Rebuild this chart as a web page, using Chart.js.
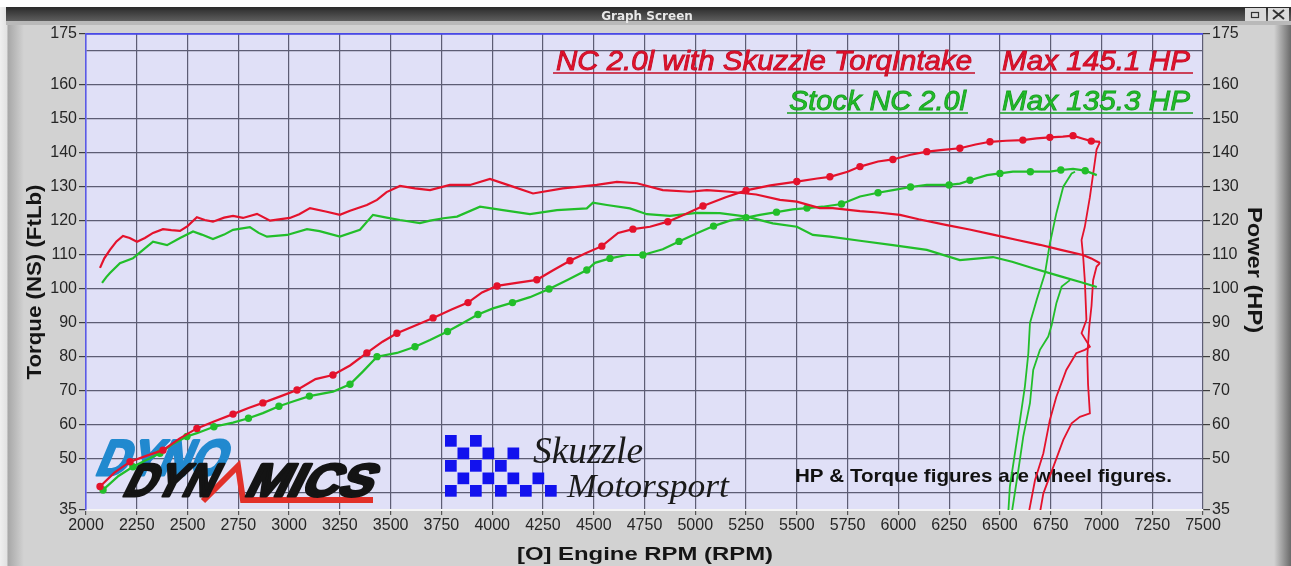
<!DOCTYPE html>
<html>
<head>
<meta charset="utf-8">
<title>Graph Screen - NC 2.0l dyno</title>
<script src="https://cdn.jsdelivr.net/npm/chart.js@4.4.1/dist/chart.umd.min.js"></script>
<style>
  html, body { margin: 0; padding: 0; background: #d2d2d2; }
  canvas { display: block; }
</style>
</head>
<body>
<canvas id="dyno" width="1291" height="566"></canvas>
<script>
// [rpm, value] pairs
const skuzzleTorque = [
  [2069,106.2],[2090,109],[2118,111.5],[2150,114],[2182,115.6],[2215,115],[2251,113.9],[2290,115],
  [2330,116.5],[2379,117.6],[2420,117.3],[2463,117.1],[2500,118.5],[2546,121.1],[2585,120.3],[2625,119.8],
  [2680,121],[2724,121.5],[2773,120.9],[2842,122.1],[2906,120.1],[2950,120.5],[3004,120.9],[3050,122],
  [3103,123.8],[3180,122.8],[3250,121.8],[3300,123],[3383,124.7],[3433,126.2],[3480,128.5],[3546,130.3],
  [3620,129.6],[3694,129.1],[3792,130.6],[3891,130.6],[3989,132.4],[4102,130.1],[4201,128.1],[4348,129.6],
  [4515,130.6],[4614,131.5],[4713,131.1],[4840,129.1],[4973,128.6],[5057,129.1],[5170,128.6],[5300,127.8],
  [5417,126.2],[5500,125.7],[5613,123.8],[5677,123.8],[5811,122.9],[5900,122.5],[6008,121.8],[6100,120.5],
  [6239,118.8],[6350,117.5],[6466,116],[6580,114.5],[6697,113],[6800,111.5],[6909,110],[6950,109],[6993,107.6]
];
const skuzzlePower = [
  [2069,41.9],[2140,46],[2217,49.2],[2300,51],[2379,52.6],[2460,56],[2546,59],[2630,61],[2724,63.2],
  [2800,65],[2871,66.5],[2960,68.5],[3039,70.3],[3130,73.5],[3216,74.7],[3300,77.5],[3383,81.2],[3460,84.5],
  [3531,87],[3610,89],[3709,91.5],[3800,94],[3881,96],[3950,99],[4024,100.9],[4120,101.8],[4220,102.7],
  [4300,105.5],[4383,108.3],[4460,110.5],[4540,112.6],[4620,116.5],[4693,117.6],[4777,118.3],[4865,119.8],
  [4950,122],[5038,124.4],[5150,127],[5250,129],[5370,130.5],[5500,131.6],[5600,132.5],[5663,133],
  [5750,134.5],[5811,136],[5900,137.5],[5973,138.1],[6060,139.5],[6140,140.4],[6220,140.9],[6303,141.4],
  [6380,142.5],[6451,143.3],[6530,143.6],[6613,143.8],[6680,144.3],[6746,144.6],[6810,144.8],[6860,145.1],
  [6909,144.2],[6950,143.5],[6993,143.3]
];
const stockTorque = [
  [2079,101.8],[2100,103.5],[2118,104.7],[2167,107.6],[2231,109],[2281,111.5],[2330,113.9],[2399,112.9],
  [2463,115],[2527,116.9],[2570,116],[2625,114.7],[2680,116],[2724,117.4],[2807,118.2],[2850,116.5],
  [2891,115.4],[2990,115.9],[3088,117.6],[3150,117],[3250,115.4],[3349,117.4],[3413,121.8],[3480,121],
  [3546,120.3],[3644,119.4],[3694,120.1],[3760,120.8],[3827,121.3],[3940,124.2],[4053,123.2],[4186,122],
  [4319,123.2],[4466,123.7],[4496,125.4],[4565,124.7],[4678,123.7],[4762,122],[4875,121.5],[5008,122.4],
  [5121,122.3],[5254,121.3],[5382,119.3],[5500,118.3],[5579,115.9],[5663,115.4],[5811,114.2],[5973,112.9],
  [6140,111.5],[6303,108.5],[6466,109.4],[6560,108],[6663,106.1],[6795,103.8],[6900,102],[6977,100.6]
];
const stockPower = [
  [2084,40.9],[2160,45],[2231,47.7],[2300,49.8],[2364,51.7],[2430,54.5],[2497,56.6],[2546,57.6],
  [2630,59.5],[2724,60.7],[2800,62],[2871,63.5],[2950,65.5],[3019,66.9],[3100,68.5],[3216,69.8],
  [3300,72],[3363,75.7],[3433,80.1],[3531,81.2],[3620,83],[3694,85],[3780,87.5],[3856,90],[3930,92.5],
  [4004,94.3],[4100,96],[4186,97.6],[4280,100],[4368,102.6],[4466,105.6],[4506,107.7],[4580,109],
  [4663,110],[4742,110],[4840,111.7],[4920,114],[5008,116.4],[5090,118.5],[5170,120.1],[5250,121],
  [5318,121.8],[5400,122.6],[5480,123.4],[5550,123.8],[5628,124.2],[5720,125],[5811,127.2],[5900,128.3],
  [5973,129.1],[6060,130],[6140,130.6],[6250,130.6],[6303,131],[6353,132],[6436,133.5],[6500,134],
  [6564,134.5],[6650,134.5],[6746,134.5],[6800,135],[6860,135.3],[6920,134.8],[6977,133.5]
];
// coast-down traces after the pull
const skuzzleRundownA = [
  [6993,143.3],[6976,141],[6943,127],[6918,118.3],[6902,114.4],[6910,109.5],[6918,102.6],[6926,90.9],
  [6902,87],[6943,83],[6918,82.1],[6876,81.1],[6827,76.2],[6778,68.3],[6746,61.5],[6714,51.7],[6673,43.8],[6640,33.5]
];
const skuzzleRundownB = [
  [6993,107.6],[6976,106.6],[6959,102.6],[6951,95],[6940,89],[6930,80],[6934,72],[6943,63.4],
  [6894,62.4],[6853,60.5],[6812,55.6],[6763,47.7],[6714,39.9],[6695,33.5]
];
const stockRundownA = [
  [6870,134.5],[6853,134],[6812,130.1],[6778,122.3],[6746,113.4],[6722,104.6],[6681,96.8],[6648,90],
  [6640,81.1],[6623,71.3],[6599,61.5],[6574,51.7],[6549,41.9],[6541,34]
];
const stockRundownB = [
  [6845,102.6],[6804,100.7],[6778,95.8],[6755,89.4],[6738,86],[6697,82.1],[6664,76.2],[6648,66.4],
  [6615,56.6],[6591,46.8],[6558,34]
];

const rpmTicks = [2000,2250,2500,2750,3000,3250,3500,3750,4000,4250,4500,4750,5000,5250,5500,5750,6000,6250,6500,6750,7000,7250,7500];
const valueTicks = [35,40,50,60,70,80,90,100,110,120,130,140,150,160,170,175];
const unlabeledTicks = [40,170];
const runNames = ['NC 2.0l with Skuzzle TorqIntake', 'Stock NC 2.0l'];
const maxNames = ['Max 145.1 HP', 'Max 135.3 HP'];

const RED = '#e4122c';
const GREEN = '#22be2a';
const GRID = '#5d5d74';
const FONT = '"Liberation Sans", Arial, sans-serif';

function trace(label, pts, color, opts = {}) {
  return {
    label,
    data: pts.map(p => ({ x: p[0], y: p[1] })),
    borderColor: color,
    backgroundColor: color,
    borderWidth: opts.width || 2.2,
    pointRadius: opts.dots ? (c => (c.dataIndex % 2 === 0 ? 2.6 : 0)) : 0,
    pointHoverRadius: 0,
    tension: 0,
    fill: false,
    yAxisID: 'y',
  };
}

// stretch text to a measured width
function fitText(c, text, x, y, w, font) {
  c.font = font;
  const m = c.measureText(text).width;
  c.save();
  c.translate(x, y);
  c.scale(w / m, 1);
  c.fillText(text, 0, 0);
  c.restore();
}

function slanted(c, text, x, y, w, font, skew, color, heavy) {
  c.font = font;
  const m = c.measureText(text).width;
  c.save();
  c.translate(x, y);
  c.transform(1, 0, -skew, 1, 0, 0);
  c.scale(w / m, 1);
  c.fillStyle = color;
  c.strokeStyle = color;
  c.lineWidth = heavy;
  c.lineJoin = 'round';
  c.fillText(text, 0, 0);
  c.strokeText(text, 0, 0);
  c.restore();
}

const sheet = {
  id: 'sheet',
  beforeDraw(chart) {
    const c = chart.ctx, W = chart.width, H = chart.height, a = chart.chartArea;
    c.save();
    c.fillStyle = '#d2d2d2';
    c.fillRect(0, 0, W, H);
    let g = c.createLinearGradient(0, 0, 24, 0);
    g.addColorStop(0, '#efefef');
    g.addColorStop(0.28, '#e2e2e2');
    g.addColorStop(0.34, '#a8a8a8');
    g.addColorStop(1, '#d2d2d2');
    c.fillStyle = g;
    c.fillRect(0, 0, 24, H);
    g = c.createLinearGradient(1274, 0, 1291, 0);
    g.addColorStop(0, '#d2d2d2');
    g.addColorStop(1, '#6a6a6a');
    c.fillStyle = g;
    c.fillRect(1274, 0, 17, H);
    c.fillStyle = '#ffffff';
    c.fillRect(0, 0, W, 7);
    g = c.createLinearGradient(0, 7, 0, 21);
    g.addColorStop(0, '#2a2a2a');
    g.addColorStop(1, '#5e5e5e');
    c.fillStyle = g;
    c.fillRect(6, 7, W - 6, 14);
    c.fillStyle = '#b9b9b9';
    c.fillRect(6, 21, W - 6, 4);
    c.fillStyle = '#e8e8e8';
    c.font = 'bold 12px "DejaVu Sans", sans-serif';
    c.textAlign = 'center';
    c.textBaseline = 'alphabetic';
    c.fillText('Graph Screen', 647, 20);
    // window buttons
    c.fillStyle = '#dadada';
    c.fillRect(1245, 8, 21, 13);
    c.fillRect(1268, 8, 21, 13);
    c.strokeStyle = '#333';
    c.lineWidth = 1.2;
    c.strokeRect(1251.5, 12.5, 7, 5);
    c.beginPath();
    c.moveTo(1273, 10); c.lineTo(1284, 19);
    c.moveTo(1284, 10); c.lineTo(1273, 19);
    c.lineWidth = 2;
    c.stroke();
    // plot face
    c.fillStyle = '#e0e0f7';
    c.fillRect(a.left, a.top, a.right - a.left, a.bottom - a.top);
    c.restore();
  },
  beforeDatasetsDraw(chart) {
    const c = chart.ctx, a = chart.chartArea;
    c.save();
    c.textAlign = 'left';
    c.textBaseline = 'alphabetic';
    // top line of the plot
    c.strokeStyle = '#4a4ae6';
    c.lineWidth = 1.5;
    c.beginPath();
    c.moveTo(a.left, a.top); c.lineTo(a.right, a.top);
    c.stroke();

    // Dyno Dynamics logo
    slanted(c, 'DYNO', 94, 475, 128, 'bold 50px ' + FONT, 0.42, '#2189cf', 3);
    c.strokeStyle = '#e2302a';
    c.lineWidth = 6;
    c.lineJoin = 'miter';
    c.beginPath();
    c.moveTo(203, 501); c.lineTo(238, 466); c.lineTo(243, 500); c.lineTo(373, 500);
    c.stroke();
    slanted(c, 'DYN', 121, 496, 90, 'bold 46px ' + FONT, 0.5, '#141414', 3);
    slanted(c, 'MICS', 243, 496, 126, 'bold 46px ' + FONT, 0.5, '#141414', 3);

    // Skuzzle Motorsport logo
    const rows = [[0, 2], [1, 3, 5], [0, 2, 4], [1, 3, 5, 7], [0, 2, 4, 6, 8]];
    c.fillStyle = '#1212ee';
    rows.forEach((cols, r) => cols.forEach(k => c.fillRect(445 + k * 12.5, 435 + r * 12.5, 11.7, 11.7)));
    c.fillStyle = '#1a1a1a';
    fitText(c, 'Skuzzle', 533, 463, 110, 'italic 38px "Liberation Serif", serif');
    fitText(c, 'Motorsport', 567, 497, 162, 'italic 34px "Liberation Serif", serif');

    // run labels
    const label = (txt, x, base, w, fill, edge, u0, u1) => {
      c.font = 'italic 28px ' + FONT;
      const m = c.measureText(txt).width;
      c.save();
      c.translate(x, base);
      c.scale(w / m, 1);
      c.fillStyle = fill;
      c.strokeStyle = edge;
      c.lineWidth = 0.9;
      c.fillText(txt, 0, 0);
      c.strokeText(txt, 0, 0);
      c.restore();
      c.strokeStyle = edge;
      c.lineWidth = 1.6;
      c.beginPath();
      c.moveTo(u0, base + 3); c.lineTo(u1, base + 3);
      c.stroke();
    };
    label(runNames[0], 556, 70, 416, RED, '#c40d26', 553, 975);
    label(maxNames[0], 1002, 70, 188, RED, '#c40d26', 1000, 1193);
    label(runNames[1], 789, 110, 177, GREEN, '#18a01f', 787, 968);
    label(maxNames[1], 1002, 110, 188, GREEN, '#18a01f', 1000, 1193);

    c.fillStyle = '#111';
    fitText(c, 'HP & Torque figures are wheel figures.', 795, 482, 377, 'bold 19px ' + FONT);
    c.restore();
  },
  afterDraw(chart) {
    const c = chart.ctx;
    c.save();
    c.fillStyle = '#151515';
    c.textBaseline = 'alphabetic';
    fitText(c, '[O] Engine RPM (RPM)', 517, 560, 256, 'bold 19px ' + FONT);
    c.font = 'bold 21px ' + FONT;
    let m = c.measureText('Torque (NS) (FtLb)').width;
    c.translate(41, 282);
    c.rotate(-Math.PI / 2);
    c.scale(195 / m, 1);
    c.textAlign = 'center';
    c.fillText('Torque (NS) (FtLb)', 0, 0);
    c.setTransform(1, 0, 0, 1, 0, 0);
    m = c.measureText('Power (HP)').width;
    c.translate(1248, 270);
    c.rotate(Math.PI / 2);
    c.scale(126 / m, 1);
    c.fillText('Power (HP)', 0, 0);
    c.restore();
  }
};

const tickFont = { family: FONT, size: 16 };
const valueAxis = (pos, width) => ({
  type: 'linear',
  position: pos,
  min: 35,
  max: 175,
  afterBuildTicks: s => { s.ticks = valueTicks.map(v => ({ value: v })); },
  afterFit: s => { s.width = width; },
  grid: {
    drawOnChartArea: pos === 'left',
    color: c => (c.tick && c.tick.value === 175 ? '#4a4ae6' : GRID),
    lineWidth: 1.2,
    tickLength: 7,
    tickColor: c => (c.tick && unlabeledTicks.includes(c.tick.value) ? 'rgba(0,0,0,0)' : '#3c3c3c'),
  },
  border: pos === 'left' ? { color: '#5a5ae6', width: 1.5 } : { display: false },
  ticks: {
    autoSkip: false,
    padding: 2,
    color: '#262626',
    font: tickFont,
    callback: v => (unlabeledTicks.includes(v) ? '' : String(v)),
  },
});

new Chart(document.getElementById('dyno').getContext('2d'), {
  type: 'line',
  data: {
    datasets: [
      trace('Skuzzle torque', skuzzleTorque, RED),
      trace('Skuzzle power', skuzzlePower, RED, { dots: true }),
      trace('Stock torque', stockTorque, GREEN),
      trace('Stock power', stockPower, GREEN, { dots: true }),
      trace('Skuzzle rundown', skuzzleRundownA, RED, { width: 1.8 }),
      trace('Skuzzle rundown 2', skuzzleRundownB, RED, { width: 1.8 }),
      trace('Stock rundown', stockRundownA, GREEN, { width: 1.8 }),
      trace('Stock rundown 2', stockRundownB, GREEN, { width: 1.8 }),
    ],
  },
  options: {
    responsive: false,
    animation: false,
    devicePixelRatio: 1,
    layout: { padding: { top: 34, left: 0, right: 0, bottom: 0 } },
    plugins: { legend: { display: false }, tooltip: { enabled: false } },
    scales: {
      x: {
        type: 'linear',
        min: 2000,
        max: 7500,
        afterBuildTicks: s => { s.ticks = rpmTicks.map(v => ({ value: v })); },
        afterFit: s => { s.height = 56; },
        grid: {
          color: c => (c.tick && c.tick.value === 2000 ? '#5a5ae6' : GRID),
          lineWidth: 1.2,
          tickLength: 5,
          tickColor: '#555',
        },
        border: { color: '#f4f4f4', width: 2 },
        ticks: {
          autoSkip: false,
          maxRotation: 0,
          padding: 1,
          color: '#262626',
          font: tickFont,
          callback: v => String(v),
        },
      },
      y: valueAxis('left', 86),
      y2: valueAxis('right', 88),
    },
  },
  plugins: [sheet],
});
</script>
</body>
</html>
